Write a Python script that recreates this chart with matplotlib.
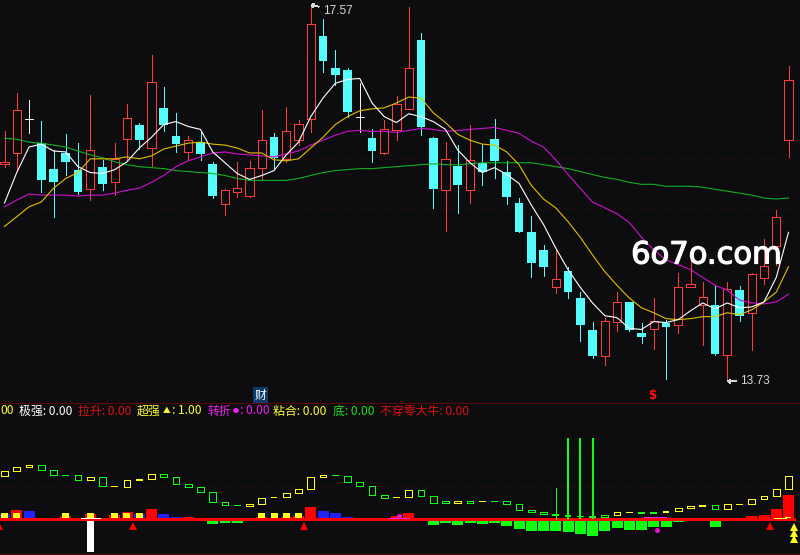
import numpy as np
import matplotlib
matplotlib.use("Agg")
import matplotlib.pyplot as plt
import matplotlib.patheffects as pe

plt.rcParams['lines.antialiased'] = False
plt.rcParams['patch.antialiased'] = False

# ---------- price data ----------
highs = [16.28,16.67,16.60,16.39,16.09,16.25,16.16,16.65,15.99,16.16,16.56,16.37,17.06,16.73,16.47,16.23,16.27,15.97,15.69,15.97,15.98,16.50,
         16.26,16.53,16.40,17.57,17.43,17.11,16.93,16.77,16.30,16.40,16.64,17.55,17.28,16.22,16.17,16.14,16.35,16.15,16.41,15.98,15.60,15.42,
         15.12,15.08,14.90,14.64,14.34,14.38,14.64,14.54,14.33,14.58,14.36,14.84,15.08,14.74,14.70,14.74,14.70,14.84,15.18,15.48,16.95]
lows = [15.92,15.89,16.26,15.66,15.41,15.83,15.64,15.58,15.68,15.63,15.99,16.10,15.93,16.28,16.07,15.99,15.99,15.60,15.43,15.61,15.61,15.78,
        15.91,15.97,16.14,16.27,16.89,16.75,16.43,16.27,15.97,16.05,16.19,16.51,16.24,15.50,15.26,15.45,15.55,15.73,15.80,15.54,15.25,14.79,
        14.80,14.63,14.58,14.14,13.97,13.90,14.24,14.24,14.12,14.06,13.75,14.22,14.69,14.10,14.00,13.73,14.35,14.05,14.72,14.92,16.02]
opens = [15.95,16.06,16.41,16.16,15.90,16.06,15.89,15.69,15.92,15.76,16.20,16.34,16.11,16.52,16.23,16.07,16.17,15.95,15.54,15.66,15.62,15.91,
         16.22,16.00,16.19,16.41,17.25,16.93,16.91,16.43,16.21,16.06,16.29,16.51,17.21,16.21,15.68,15.93,15.68,15.96,16.20,15.87,15.55,15.25,
         15.07,14.69,14.86,14.58,14.25,13.99,14.34,14.54,14.22,14.26,14.33,14.30,14.69,14.51,14.51,14.00,14.66,14.43,14.78,15.11,16.19]
closes = [15.97,16.50,16.41,15.78,15.76,15.97,15.66,16.09,15.74,16.00,16.42,16.19,16.78,16.34,16.15,16.19,16.05,15.62,15.68,15.70,15.91,16.19,
          16.01,16.28,16.36,17.38,17.00,16.86,16.48,16.43,16.08,16.30,16.56,16.93,16.32,15.69,16.00,15.73,15.99,15.87,15.98,15.61,15.25,14.94,
          14.90,14.77,14.64,14.30,13.99,14.35,14.54,14.25,14.18,14.35,14.28,14.69,14.72,14.59,14.01,14.67,14.40,14.83,14.91,15.41,16.80]

ma5 = [15.55,15.86,16.12,16.15,16.08,16.07,15.92,15.86,15.85,15.89,15.97,16.11,16.22,16.35,16.38,16.33,16.30,16.07,15.96,15.85,15.79,15.83,
       15.88,16.04,16.17,16.43,16.62,16.77,16.81,16.82,16.57,16.43,16.37,16.46,16.43,16.38,16.30,16.09,15.96,15.86,15.91,15.84,15.75,15.53,
       15.33,15.09,14.87,14.69,14.53,14.40,14.38,14.27,14.26,14.34,14.33,14.36,14.45,14.53,14.47,14.53,14.48,14.49,14.54,14.79,15.25]
ma10 = [15.31,15.41,15.51,15.56,15.70,15.80,15.86,16.00,16.00,16.00,16.02,16.00,16.03,16.10,16.13,16.16,16.17,16.15,16.14,16.11,16.06,16.06,
        15.99,15.98,16.00,16.11,16.22,16.35,16.43,16.49,16.51,16.52,16.57,16.63,16.62,16.47,16.37,16.25,16.19,16.15,16.14,16.07,15.94,15.73,
        15.59,15.50,15.36,15.20,15.02,14.85,14.71,14.58,14.48,14.43,14.37,14.36,14.37,14.39,14.39,14.43,14.41,14.46,14.54,14.64,14.90]
ma20 = [15.51,15.58,15.64,15.63,15.63,15.63,15.62,15.63,15.63,15.65,15.68,15.70,15.76,15.83,15.92,15.98,16.02,16.06,16.07,16.05,16.04,16.03,
        16.02,16.05,16.08,16.14,16.19,16.24,16.28,16.29,16.28,16.28,16.27,16.29,16.31,16.30,16.28,16.29,16.30,16.31,16.32,16.29,16.26,16.18,
        16.12,15.99,15.84,15.70,15.56,15.50,15.44,15.35,15.20,15.07,14.97,14.92,14.87,14.79,14.71,14.66,14.56,14.53,14.52,14.54,14.62]
ma60 = [16.21,16.20,16.17,16.16,16.14,16.12,16.08,16.04,16.01,15.97,15.94,15.92,15.91,15.90,15.88,15.87,15.86,15.85,15.83,15.80,15.78,15.78,
        15.78,15.78,15.80,15.83,15.86,15.88,15.89,15.90,15.90,15.91,15.92,15.93,15.94,15.95,15.94,15.94,15.95,15.96,15.96,15.96,15.96,15.96,
        15.94,15.92,15.90,15.87,15.84,15.81,15.79,15.76,15.74,15.74,15.72,15.72,15.72,15.71,15.69,15.67,15.65,15.63,15.60,15.59,15.60]

# ---------- indicator data ----------
trend_top = [48,52,54,54,49,44,44,42,42,33,39,39.5,45,45,42,35,32,27,17,14,15,21,
             22,26,30,42,44,44,43,37,33,24,22,29,29,23,18,18,18,18,18,18,15,9,
             7,4.5,3.5,3,2.5,4,7,7,6.5,6.5,7.5,11,13,13.5,14,15,15,20,23,30,43]
trend_bot = [43,48,52,49,44,44,39,39,33,33,32,39.5,40,42,35,32,27,17,14,14,13,15,
             22,22,26,30,42,44,37,33,24,21,22,22,23,16,16,16,16,18,18,15,9,7,
             5,4.5,3.5,3,2.5,2,4,7,6.5,6.5,7.5,8,11,13.5,10,10,15,15,20,23,30]
trend_colour = list("yyyggggygyyyygggggggyy" "yyyyygggggyygggyg" "yggggg" "gggg" "gyygg" "yyyyg" "yyyyyy")
hist_vals = [5,9,8,1.3,1.3,3.3,0,5.3,1.3,4.3,7.3,5.3,10.3,5.3,2.3,2.3,0,-5,-4,-4,-2,2.3,
             0,2,3.3,12.3,8.3,6.3,2.3,1.3,-2,0,3,6.3,0,-6,-3.5,-6,-3.5,-5,-3.5,-7,-10,-12,
             -12,-12,-13,-15,-17,-12,-9,-11,-11,-8,-8,-3,-2,-2,-8,0,-2,3.3,4.3,10.3,24.3]
hist_blue = [0,2,3,4,8,11,13,14,26,27,28,29]
square_idx = [0,1,5,7,9,10,11,21,22,23,24]
square_val = 6.3
spike_idx = [45,46,47,48]
spike_vals = [31.5,81.3,81.3,81.3]
spike_widths = [1,2,2,2]
white_bar_idx = 7
white_bar_val = -33
red_tri_pos = [-0.45,10.5,24.45,62.5]
red_tri_val = -7
yellow_tri_pos = [64.45,64.45,64.45]
yellow_tri_val = [-7.5,-14,-20]
dot_pos = [32.2,53.3]
dot_val = [3.3,-10.7]

header_x = [0,19,78,137,163,172,208,233,240,273,333,380]
header_txt = ["00","极强: 0.00","拉升: 0.00","超强","▲",": 1.00","转折","●",": 0.00","粘合: 0.00","底: 0.00","不穿零大牛: 0.00"]
header_col = ["#ffff33","#ffffff","#e01010","#ffff33","#ffff33","#ffff33","#f020f0","#f020f0","#f020f0","#ffff33","#22e022","#e01010"]
header_size = [8.6,8.6,8.6,8.6,5.5,8.6,8.6,4.5,8.6,8.6,8.6,8.6]

BG = "#0d0d10"; RED = "#ff3c3c"; CYAN = "#54fcfc"; GRID = "#4a0c0c"
G = "#10ff10"; Y = "#ffff20"; B = "#2222ff"; R = "#ff0000"
W, H = 800, 555
PX = 12.25
LW = 0.72
MLW = 0.8
n = len(opens)
x = np.arange(n)
xlim = (-4.5 / PX, (W - 4.5) / PX)

fig = plt.figure(figsize=(W / 100, H / 100), dpi=100, facecolor=BG)
ax = fig.add_axes([0, (H - 402) / H, 1, 402 / H], facecolor=BG)
ax2 = fig.add_axes([0, 1 / H, 1, 151 / H], facecolor=BG)

# ---------- main panel ----------
ax.set_xlim(*xlim)
ax.set_ylim(17.62 - 402 * 0.0102, 17.62)
ax.set_yticks([14, 14.5, 15, 15.5, 16, 16.5, 17, 17.5])
ax.set_xticks([])
ax.tick_params(length=0, labelleft=False)
ax.grid(axis='y', color=GRID, lw=0.7, ls=(0, (1, 5)), zorder=0)
ax.set_axisbelow(True)
for s in ax.spines.values():
    s.set_visible(False)

bw = 8.2 / PX
for i in range(n):
    o, c, h, l = opens[i], closes[i], highs[i], lows[i]
    if c > o:
        ax.vlines(i, l, h, color=RED, lw=LW, zorder=2)
        ax.bar(i, c - o, bottom=o, width=bw, facecolor=BG, edgecolor=RED, lw=LW, zorder=3)
    elif c < o:
        ax.vlines(i, l, h, color=CYAN, lw=LW, zorder=2)
        ax.bar(i, o - c, bottom=c, width=bw + 0.06, facecolor=CYAN, edgecolor='none', zorder=3)
    else:
        ax.vlines(i, l, h, color="#f0f0f0", lw=LW, zorder=2)
        ax.hlines(o, i - bw / 2, i + bw / 2, color="#f0f0f0", lw=LW, zorder=3)

ax.plot(x, ma60, color="#10b020", lw=MLW, antialiased=True, zorder=4)
ax.plot(x, ma20, color="#d010d0", lw=MLW, antialiased=True, zorder=4)
ax.plot(x, ma10, color="#e0c000", lw=MLW, antialiased=True, zorder=4)
ax.plot(x, ma5, color="#ffffff", lw=MLW, antialiased=True, zorder=5)

ax.annotate("17.57", xy=(25, 17.57), xytext=(26.0, 17.51), color="#d8d8d8", fontsize=8.6,
            family="Liberation Sans", va='center', ha='left',
            arrowprops=dict(arrowstyle="->,head_length=0.2,head_width=0.15", color="#d8d8d8", lw=0.6, shrinkA=1, shrinkB=0))
ax.annotate("13.73", xy=(59, 13.73), xytext=(60.05, 13.73), color="#d8d8d8", fontsize=8.6,
            family="Liberation Sans", va='center', ha='left',
            arrowprops=dict(arrowstyle="->,head_length=0.2,head_width=0.15", color="#d8d8d8", lw=0.6, shrinkA=1, shrinkB=0))

ax.text(706 / W, 1 - 255 / 402, "6o7o.com", transform=ax.transAxes, color="#ffffff", fontsize=22,
        family="DejaVu Sans", ha='center', va='center', zorder=8,
        path_effects=[pe.withStroke(linewidth=0.9, foreground="#ffffff")])

ax.text(260.5 / W, 1 - 395 / 402, "财", transform=ax.transAxes, color="#ffffff", fontsize=8.5,
        family="Noto Sans CJK SC", ha='center', va='center', zorder=8,
        bbox=dict(boxstyle="square,pad=0.1", facecolor="#103a6a", edgecolor='none'))
ax.text(651.7 / W, 1 - 396 / 402, "$", transform=ax.transAxes, color="#ff1010", fontsize=8.5,
        fontweight='bold', family="DejaVu Sans", ha='center', va='center', zorder=8)

# ---------- lower panel ----------
ax2.set_xlim(*xlim)
ax2.set_ylim(-34.7, 116.3)
ax2.set_yticks([32.3, 65.3])
ax2.set_xticks([])
ax2.tick_params(length=0, labelleft=False)
ax2.grid(axis='y', color=GRID, lw=0.7, ls=(0, (1, 5)), zorder=0)
ax2.set_axisbelow(True)
for k in ('left', 'right'):
    ax2.spines[k].set_visible(False)
for k in ('top', 'bottom'):
    ax2.spines[k].set_color("#5a0808")
    ax2.spines[k].set_linewidth(0.72)

hist_col = [B if i in hist_blue else (G if v < 0 else R) for i, v in enumerate(hist_vals)]
ax2.bar(x, hist_vals, width=11 / PX, color=hist_col, edgecolor='none', zorder=2)
ax2.bar(square_idx, [square_val] * len(square_idx), width=7 / PX, color=Y, edgecolor='none', zorder=3)
ax2.bar(white_bar_idx, white_bar_val, width=7 / PX, color="#ffffff", edgecolor='none', zorder=3)
ax2.hlines(1.3, white_bar_idx - 9.5 / PX, white_bar_idx + 9.5 / PX, color="#ffffff", lw=LW, zorder=5)
ax2.hlines(0, xlim[0], 64.5, color=R, lw=0.8, zorder=4)

tw = 6.6 / PX
for i in range(n):
    col = Y if trend_colour[i] == 'y' else G
    t, b = trend_top[i], trend_bot[i]
    if t == b:
        ax2.bar(i, 1.6, bottom=t - 0.8, width=tw, color=col, edgecolor='none', zorder=6)
    else:
        ax2.bar(i, t - b, bottom=b, width=tw, facecolor='none', edgecolor=col, lw=LW, zorder=6)
for i, v, w in zip(spike_idx, spike_vals, spike_widths):
    ax2.vlines(i, 0, v, color=G, lw=w * 0.72, zorder=5)

ax2.hlines([1.3, 2.3], [31.3, 52.2], [33.0, 54.0], color="#f020f0", lw=LW, zorder=5)
ax2.hlines([1.3, 2.3], [62.8, 63.7], [63.8, 64.1], color=Y, lw=LW, zorder=5)
ax2.plot(dot_pos, dot_val, ls='none', marker='o', ms=3.6, color="#f010d0", mew=0, zorder=7)
ax2.plot(red_tri_pos, [red_tri_val] * 4, ls='none', marker='^', ms=5.6, color=R, mew=0, zorder=7)
ax2.plot(yellow_tri_pos, yellow_tri_val, ls='none', marker='^', ms=5.6, color=Y, mew=0, zorder=7)

for px, txt, col, fs in zip(header_x, header_txt, header_col, header_size):
    fig.text(px / W, 1 - 411 / H, txt, color=col, fontsize=fs, va='center', ha='left',
             family=["Noto Sans CJK SC", "DejaVu Sans"], zorder=9)

fig.savefig("out.png", dpi=100, facecolor=BG)
